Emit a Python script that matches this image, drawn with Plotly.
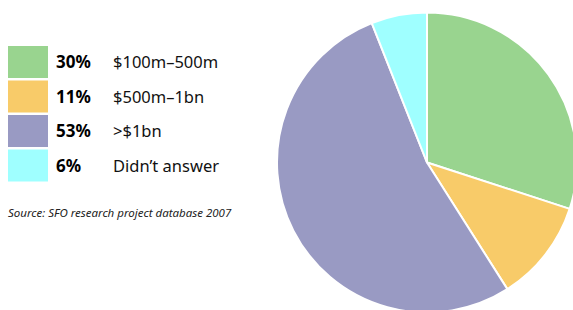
import plotly.graph_objects as go

percents = [30, 11, 53, 6]
pct_labels = ["30%", "11%", "53%", "6%"]
categories = ["$100m–500m", "$500m–1bn", ">$1bn", "Didn’t answer"]
colors = ["#99D48F", "#F8CB69", "#999AC3", "#9FFFFF"]
source = "Source: SFO research project database 2007"

W, H = 580, 320
fig = go.Figure()
cx, cy, r = 427, 162.5, 150
fig.add_trace(go.Pie(
    values=percents, labels=categories, sort=False, direction="clockwise",
    rotation=0, textinfo="none", hoverinfo="label+percent",
    marker=dict(colors=colors, line=dict(color="white", width=2)),
    domain=dict(x=[(cx - r) / W, (cx + r) / W], y=[(H - cy - r) / H, (H - cy + r) / H]),
    showlegend=False,
))

shapes = []
annotations = []
box_top = 46
step = 34.5
font = "Noto Sans, Open Sans, sans-serif"
for i, (p, c, col) in enumerate(zip(pct_labels, categories, colors)):
    y0 = box_top + i * step
    y1 = y0 + 32
    shapes.append(dict(type="rect", xref="paper", yref="paper",
                       x0=8 / W, x1=48 / W, y0=1 - y1 / H, y1=1 - y0 / H,
                       fillcolor=col, line=dict(width=0)))
    yc = 1 - (y0 + 15.5) / H
    annotations.append(dict(text="<b>" + p + "</b>", x=53.5 / W, y=yc, xref="paper", yref="paper",
                            xanchor="left", yanchor="middle", showarrow=False,
                            font=dict(family=font, size=17, color="#000")))
    annotations.append(dict(text=c, x=110.5 / W, y=yc, xref="paper", yref="paper",
                            xanchor="left", yanchor="middle", showarrow=False,
                            font=dict(family=font, size=16.5, color="#111")))
annotations.append(dict(text="<i>" + source + "</i>", x=6 / W, y=1 - 212 / H, xref="paper", yref="paper",
                        xanchor="left", yanchor="middle", showarrow=False,
                        font=dict(family=font, size=11.5, color="#222")))

fig.update_layout(width=W, height=H, margin=dict(l=0, r=0, t=0, b=0),
                  paper_bgcolor="white", plot_bgcolor="white",
                  shapes=shapes, annotations=annotations)

fig.write_html("out.html", config={"displayModeBar": False},
               post_script="document.body.style.margin='0';document.body.style.overflow='hidden';document.documentElement.style.overflow='hidden';")
